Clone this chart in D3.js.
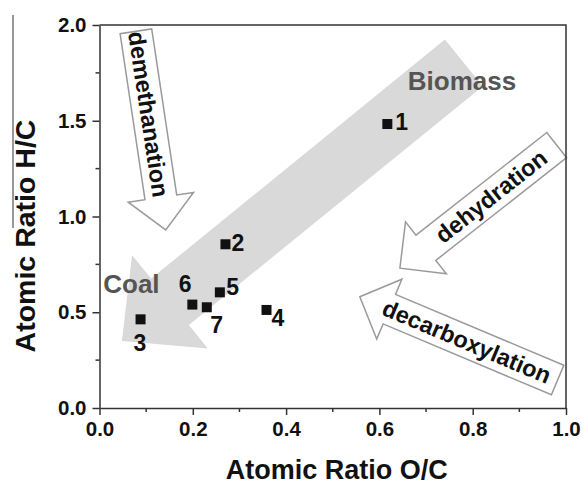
<!DOCTYPE html>
<html>
<head>
<meta charset="utf-8">
<script src="https://cdn.jsdelivr.net/npm/d3@7"></script>
<style>
  html, body { margin: 0; padding: 0; background: #fff; }
  svg { display: block; font-family: "Liberation Sans", Arial, sans-serif; }
</style>
</head>
<body>
<svg id="chart" width="583" height="484"></svg>
<script>
// ---- data ----
const sampleIds = ["1", "2", "3", "4", "5", "6", "7"];
const ocRatio   = [0.617, 0.270, 0.088, 0.358, 0.258, 0.199, 0.230];
const hcRatio   = [1.483, 0.855, 0.463, 0.512, 0.604, 0.540, 0.526];

const xTickValues = [0.0, 0.2, 0.4, 0.6, 0.8, 1.0];
const yTickValues = [0.0, 0.5, 1.0, 1.5, 2.0];
const xMinorValues = [0.1, 0.3, 0.5, 0.7, 0.9];
const yMinorValues = [0.25, 0.75, 1.25, 1.75];

const xTitle = "Atomic Ratio O/C";
const yTitle = "Atomic Ratio H/C";

// annotation arrows in data units: [fromX, fromY] -> [toX, toY]
const arrowNames = ["trend", "demethanation", "dehydration", "decarboxylation"];
const arrowFrom  = [[0.781, 1.802], [0.078, 1.967], [0.980, 1.373], [0.982, 0.146]];
const arrowTo    = [[0.048, 0.350], [0.142, 0.930], [0.644, 0.730], [0.558, 0.581]];
const arrowText  = ["", "demethanation", "dehydration", "decarboxylation"];

const regionNames = ["Biomass", "Coal"];
const regionX = [0.661, 0.008];
const regionY = [1.661, 0.599];

// ---- layout ----
const svg = d3.select("#chart");
const mLeft = 99.5, mRight = 566, mTop = 25, mBottom = 408;
const x = d3.scaleLinear().domain([0, 1]).range([mLeft, mRight]);
const y = d3.scaleLinear().domain([0, 2]).range([mBottom, mTop]);

// stray vertical line behind y title (as in reference)
svg.append("line").attr("x1", 13).attr("x2", 13).attr("y1", 15).attr("y2", 228)
  .attr("stroke", "#555").attr("stroke-width", 1.2);

// arrow geometry
function arrowPath(S, T, w, hl, hw) {
  const dx = T[0] - S[0], dy = T[1] - S[1];
  const L = Math.hypot(dx, dy);
  const d = [dx / L, dy / L], n = [-d[1], d[0]];
  const B = [T[0] - d[0] * hl, T[1] - d[1] * hl];
  const p = (P, k) => [P[0] + n[0] * k, P[1] + n[1] * k];
  const pts = [p(S, w), p(B, w), p(B, hw), T, p(B, -hw), p(B, -w), p(S, -w)];
  return "M" + pts.map(q => q[0].toFixed(1) + "," + q[1].toFixed(1)).join("L") + "Z";
}

const arrowStyle = {
  trend:           { w: 30, hl: 62, hw: 60, fill: "#d9d9d9", stroke: "none", tf: 0.5 },
  demethanation:   { w: 16, hl: 33, hw: 33, fill: "#fff", stroke: "#9a9a9a", tf: 0.5 },
  dehydration:     { w: 16, hl: 33, hw: 33, fill: "#fff", stroke: "#9a9a9a", tf: 0.5 },
  decarboxylation: { w: 16, hl: 32, hw: 32.5, fill: "#fff", stroke: "#9a9a9a", tf: 0.54 }
};

const gArrows = svg.append("g");
arrowNames.forEach((name, i) => {
  const st = arrowStyle[name];
  const S = [x(arrowFrom[i][0]), y(arrowFrom[i][1])];
  const T = [x(arrowTo[i][0]), y(arrowTo[i][1])];
  gArrows.append("path").attr("d", arrowPath(S, T, st.w, st.hl, st.hw))
    .attr("fill", st.fill).attr("stroke", st.stroke).attr("stroke-width", 1.5)
    .attr("stroke-linejoin", "miter");
  if (arrowText[i]) {
    const dx = T[0] - S[0], dy = T[1] - S[1], L = Math.hypot(dx, dy);
    const B = [T[0] - dx / L * st.hl, T[1] - dy / L * st.hl];
    const cx = S[0] + (B[0] - S[0]) * st.tf, cy = S[1] + (B[1] - S[1]) * st.tf;
    let ang = Math.atan2(dy, dx) * 180 / Math.PI;
    if (ang > 90) ang -= 180;
    if (ang < -90) ang += 180;
    gArrows.append("text").attr("x", 0).attr("y", 0)
      .attr("transform", `translate(${cx},${cy}) rotate(${ang})`)
      .attr("text-anchor", "middle").attr("dominant-baseline", "central")
      .attr("font-size", 23.5).attr("font-weight", "bold").attr("fill", "#111")
      .text(arrowText[i]);
  }
});

// region labels
regionNames.forEach((t, i) => {
  svg.append("text").attr("x", x(regionX[i])).attr("y", y(regionY[i]))
    .attr("font-size", 26).attr("font-weight", "bold").attr("fill", "#555").text(t);
});

// frame
svg.append("path")
  .attr("d", `M${mLeft},${mTop}H${mRight}V${mBottom}`)
  .attr("fill", "none").attr("stroke", "#333").attr("stroke-width", 1.5);

// axes
const xAxis = d3.axisBottom(x).tickValues(xTickValues).tickFormat(d3.format(".1f"))
  .tickSizeInner(7).tickSizeOuter(0).tickPadding(6);
const yAxis = d3.axisLeft(y).tickValues(yTickValues).tickFormat(d3.format(".1f"))
  .tickSizeInner(7).tickSizeOuter(0).tickPadding(6);

const gx = svg.append("g").attr("transform", `translate(0,${mBottom})`).call(xAxis);
const gy = svg.append("g").attr("transform", `translate(${mLeft},0)`).call(yAxis);
[gx, gy].forEach(g => {
  g.select(".domain").attr("stroke", "#333").attr("stroke-width", 1.5);
  g.selectAll(".tick line").attr("stroke", "#333").attr("stroke-width", 1.5);
  g.selectAll(".tick text").attr("font-size", 20.5).attr("font-weight", "bold")
    .attr("fill", "#111").attr("font-family", '"Liberation Sans", Arial, sans-serif');
});
gx.selectAll(".tick text").attr("dy", "0.75em");

// minor ticks
svg.append("g").selectAll("line").data(xMinorValues).join("line")
  .attr("x1", d => x(d)).attr("x2", d => x(d)).attr("y1", mBottom).attr("y2", mBottom + 4)
  .attr("stroke", "#333").attr("stroke-width", 1.5);
svg.append("g").selectAll("line").data(yMinorValues).join("line")
  .attr("y1", d => y(d)).attr("y2", d => y(d)).attr("x1", mLeft).attr("x2", mLeft - 4)
  .attr("stroke", "#333").attr("stroke-width", 1.5);

// axis titles
svg.append("text").attr("x", (mLeft + mRight) / 2 + 4).attr("y", 479)
  .attr("text-anchor", "middle").attr("font-size", 27).attr("font-weight", "bold")
  .attr("fill", "#111").text(xTitle);
svg.append("text").attr("transform", `translate(35,236) rotate(-90)`)
  .attr("text-anchor", "middle").attr("font-size", 28.5).attr("font-weight", "bold")
  .attr("fill", "#111").text(yTitle);

// points
const pts = sampleIds.map((id, i) => ({ id, oc: ocRatio[i], hc: hcRatio[i] }));
const sz = 10;
svg.append("g").selectAll("rect").data(pts).join("rect")
  .attr("x", d => x(d.oc) - sz / 2).attr("y", d => y(d.hc) - sz / 2)
  .attr("width", sz).attr("height", sz).attr("fill", "#111");

// point labels (pixel offsets from marker centre)
const labelDx = { "1": 8, "2": 6, "3": -7, "4": 5, "5": 6.5, "6": -13.5, "7": 3.5 };
const labelDy = { "1": 6, "2": 6.5, "3": 32, "4": 16, "5": 2.7, "6": -12.4, "7": 26 };
svg.append("g").selectAll("text").data(pts).join("text")
  .attr("x", d => x(d.oc) + labelDx[d.id]).attr("y", d => y(d.hc) + labelDy[d.id])
  .attr("font-size", 23).attr("font-weight", "bold").attr("fill", "#111")
  .text(d => d.id);
</script>
</body>
</html>
